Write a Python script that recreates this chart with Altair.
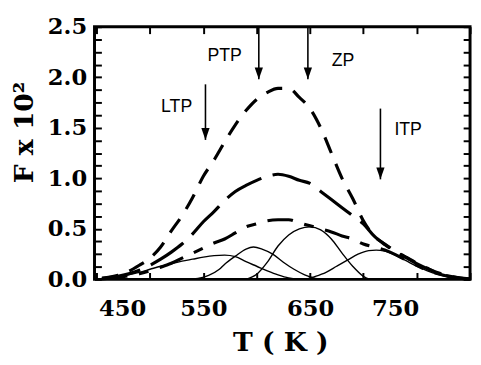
import altair as alt
import pandas as pd

# ---- data (T in K, F x 10^2) ----
T_sum = [455, 470, 480, 490, 500, 510, 520, 530, 540, 550, 560, 570, 580, 590, 600,
         610, 620, 630, 640, 650, 660, 670, 680, 690, 700, 710, 720, 730, 740, 750,
         760, 770, 780, 790, 800]
F_top = [0.01, 0.04, 0.08, 0.14, 0.21, 0.32, 0.48, 0.63, 0.81, 1.02, 1.18, 1.36, 1.53, 1.67, 1.78,
         1.85, 1.89, 1.89, 1.80, 1.69, 1.50, 1.25, 1.00, 0.80, 0.58, 0.43, 0.35, 0.28, 0.22, 0.16,
         0.11, 0.065, 0.035, 0.015, 0.005]
F_mid = [0.01, 0.03, 0.055, 0.09, 0.14, 0.20, 0.27, 0.35, 0.45, 0.57, 0.67, 0.78, 0.87, 0.93, 0.98,
         1.02, 1.04, 1.02, 0.98, 0.95, 0.87, 0.79, 0.71, 0.63, 0.55, 0.43, 0.345, 0.275, 0.215, 0.155,
         0.105, 0.062, 0.032, 0.013, 0.004]
F_low = [0.005, 0.02, 0.035, 0.055, 0.085, 0.12, 0.16, 0.21, 0.26, 0.31, 0.36, 0.40, 0.46, 0.52, 0.55,
         0.58, 0.59, 0.59, 0.56, 0.53, 0.50, 0.47, 0.43, 0.40, 0.35, 0.32, 0.29, 0.245, 0.19, 0.14,
         0.09, 0.055, 0.028, 0.011, 0.003]

T_ltp = [450, 460, 470, 480, 490, 500, 510, 520, 530, 540, 550, 560, 570, 580, 590, 600, 610, 620, 630, 640]
F_ltp = [0.003, 0.015, 0.03, 0.045, 0.07, 0.10, 0.13, 0.155, 0.18, 0.20, 0.22, 0.235, 0.24, 0.225, 0.175,
         0.13, 0.085, 0.045, 0.015, 0.003]
T_ptp = [535, 545, 555, 565, 570, 580, 590, 597, 605, 615, 625, 635, 645, 655, 662]
F_ptp = [0.0, 0.01, 0.04, 0.10, 0.15, 0.23, 0.30, 0.32, 0.30, 0.25, 0.17, 0.10, 0.045, 0.01, 0.0]
T_zp = [590, 600, 610, 620, 630, 640, 650, 660, 670, 680, 690, 700, 706]
F_zp = [0.0, 0.05, 0.17, 0.33, 0.44, 0.50, 0.52, 0.49, 0.40, 0.26, 0.13, 0.03, 0.0]
T_itp = [645, 655, 665, 675, 685, 695, 705, 712, 720, 730, 740, 750, 760, 770, 780, 790, 800]
F_itp = [0.0, 0.03, 0.07, 0.13, 0.19, 0.25, 0.285, 0.29, 0.28, 0.24, 0.185, 0.13, 0.085, 0.05, 0.025,
         0.01, 0.003]

arrow_names = ["LTP", "PTP", "ZP", "ITP"]
arrow_T = [552, 602, 648, 716]
arrow_from = [1.93, 2.5, 2.5, 1.69]
arrow_to = [1.38, 1.98, 1.98, 0.99]
label_T = [525, 570, 681, 742]
label_F = [1.70, 2.21, 2.16, 1.48]

x_ticks = [450, 500, 550, 600, 650, 700, 750, 800]
x_labels = [450, 550, 650, 750]
y_labels = [0.0, 0.5, 1.0, 1.5, 2.0, 2.5]
y_ticks = [i * 0.125 for i in range(21)]

# ---- tables ----
def frame(ts, fs, name):
    return pd.DataFrame({"T": ts, "F": fs, "curve": name})

solid_df = pd.concat([frame(T_ltp, F_ltp, "LTP"), frame(T_ptp, F_ptp, "PTP"),
                      frame(T_zp, F_zp, "ZP"), frame(T_itp, F_itp, "ITP")])
top_df = frame(T_sum, F_top, "top")
mid_df = frame(T_sum, F_mid, "mid")
low_df = frame(T_sum, F_low, "low")
arrow_df = pd.DataFrame({"name": arrow_names, "T": arrow_T, "F0": arrow_from, "F1": arrow_to})
label_df = pd.DataFrame({"name": arrow_names, "T": label_T, "F": label_F})

xs = alt.Scale(domain=[448, 800], nice=False, zero=False)
ys = alt.Scale(domain=[0, 2.5], nice=False)

SERIF = "DejaVu Serif"

x_label_axis = alt.Axis(
    orient="bottom", values=x_labels, format="d", ticks=False, tickSize=0, domain=False, grid=False,
    labelFont=SERIF, labelFontWeight="bold", labelFontSize=23, labelColor="black",
    labelBaseline="alphabetic", labelPadding=37, labelFlush=False, labelOverlap=False,
    labelOffset={"condition": [{"test": "datum.value == 450", "value": 26},
                               {"test": "datum.value == 750", "value": -22}], "value": 0},
    title="T ( K )", titleFont=SERIF, titleFontWeight="bold", titleFontSize=27, titleColor="black",
    titleBaseline="alphabetic", titleX=189, titleY=72)
y_label_axis = alt.Axis(
    orient="left", values=y_labels, format=".1f", ticks=False, tickSize=0, domain=False, grid=False,
    labelFont=SERIF, labelFontWeight="bold", labelFontSize=23, labelColor="black",
    labelPadding=8, labelFlush=False, labelOverlap=False,
    title="F x 10²", titleFont=SERIF, titleFontWeight="bold", titleFontSize=27, titleColor="black",
    titleAngle=270, titleBaseline="alphabetic", titleX=-63, titleY=107)

def tick_axis(orient, values):
    return alt.Axis(orient=orient, values=values, labels=False, domain=False, grid=False,
                    ticks=True, tickSize=7, tickWidth=2, tickColor="black", offset=-7,
                    zindex=2, title=None)

solid = alt.Chart(solid_df).mark_line(color="black", strokeWidth=1.4, interpolate="monotone").encode(
    x=alt.X("T:Q", scale=xs, axis=x_label_axis),
    y=alt.Y("F:Q", scale=ys, axis=y_label_axis),
    detail="curve:N")

top = alt.Chart(top_df).mark_line(color="black", strokeWidth=3.2, strokeDash=[17, 12],
                                  interpolate="monotone").encode(
    x=alt.X("T:Q", scale=xs, axis=tick_axis("bottom", x_ticks)),
    y=alt.Y("F:Q", scale=ys, axis=tick_axis("left", y_ticks)))

mid = alt.Chart(mid_df).mark_line(color="black", strokeWidth=3.2, strokeDash=[40, 12],
                                  interpolate="monotone").encode(
    x=alt.X("T:Q", scale=xs, axis=tick_axis("top", x_ticks)),
    y=alt.Y("F:Q", scale=ys, axis=tick_axis("right", y_ticks)))

low = alt.Chart(low_df).mark_line(color="black", strokeWidth=3.2, strokeDash=[26, 12, 10, 12],
                                  interpolate="monotone").encode(
    x=alt.X("T:Q", scale=xs, axis=None),
    y=alt.Y("F:Q", scale=ys, axis=None))

shafts = alt.Chart(arrow_df).mark_rule(color="black", strokeWidth=1.6).encode(
    x=alt.X("T:Q", scale=xs, axis=None),
    y=alt.Y("F0:Q", scale=ys, axis=None),
    y2="F1:Q")

heads = alt.Chart(arrow_df).mark_point(shape="M -0.7 -2 L 0.7 -2 L 0 0 Z", filled=True, size=144,
                                       color="black", opacity=1).encode(
    x=alt.X("T:Q", scale=xs, axis=None),
    y=alt.Y("F1:Q", scale=ys, axis=None))

texts = alt.Chart(label_df).mark_text(font="Liberation Sans", fontSize=18, color="black",
                                      align="center", baseline="middle").encode(
    x=alt.X("T:Q", scale=xs, axis=None),
    y=alt.Y("F:Q", scale=ys, axis=None),
    text="name:N")

chart = alt.layer(solid, top, mid, low, shafts, heads, texts).resolve_scale(
    x="shared", y="shared").resolve_axis(x="independent", y="independent").properties(
    width=382, height=257,
    autosize=alt.AutoSizeParams(type="none"),
    padding={"left": 88, "top": 16, "right": 3, "bottom": 82},
    background="white").configure_view(stroke="black", strokeWidth=3)

chart.save("out.html", embed_options={"renderer": "svg", "actions": False})
